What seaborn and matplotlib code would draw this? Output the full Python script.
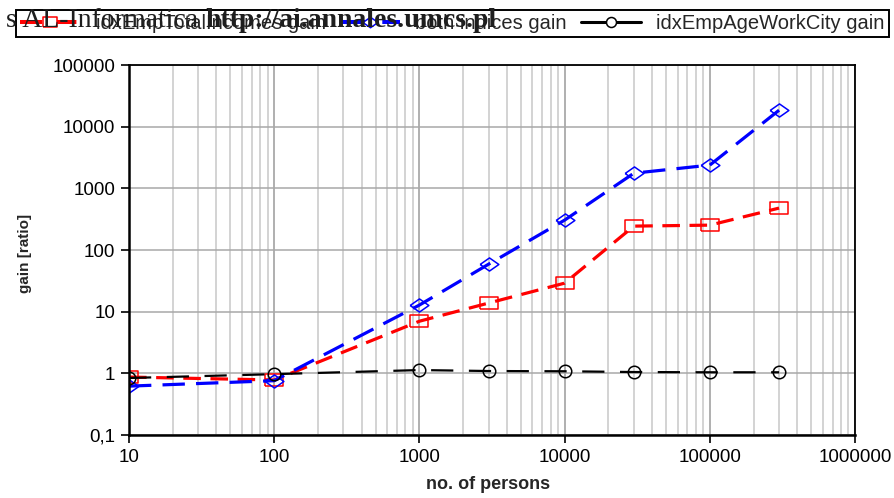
import matplotlib
matplotlib.use("Agg")
import matplotlib.pyplot as plt
import matplotlib.ticker as mticker
from matplotlib.lines import Line2D
import numpy as np
import pandas as pd
import seaborn as sns

## Data
persons = [10, 100, 1000, 3000, 10000, 30000, 100000, 300000]
gain_total_incomes = [0.87, 0.78, 7.0, 13.8, 29, 244, 253, 478]
gain_both = [0.62, 0.76, 12.8, 59, 305, 1760, 2380, 18500]
gain_age_work_city = [0.84, 0.97, 1.13, 1.09, 1.08, 1.05, 1.04, 1.04]

labels = ["idxEmpTotalIncomes gain", "both indices gain", "idxEmpAgeWorkCity gain"]
x_ticks = [10, 100, 1000, 10000, 100000, 1000000]
x_tick_labels = ["10", "100", "1000", "10000", "100000", "1000000"]
y_ticks = [0.1, 1, 10, 100, 1000, 10000, 100000]
y_tick_labels = ["0,1", "1", "10", "100", "1000", "10000", "100000"]

df = pd.DataFrame({
    "no. of persons": persons * 3,
    "gain": gain_total_incomes + gain_both + gain_age_work_city,
    "series": [labels[0]] * len(persons) + [labels[1]] * len(persons) + [labels[2]] * len(persons),
})

## Style
sns.set_theme(style="white")
plt.rcParams["font.family"] = ["Liberation Sans", "DejaVu Sans"]
plt.rcParams["axes.edgecolor"] = "black"

# flattened markers (the reference is stretched horizontally)
square = [(-1, -0.7), (1, -0.7), (1, 0.7), (-1, 0.7), (-1, -0.7)]
diamond = [(-1, 0), (0, 0.7), (1, 0), (0, -0.7), (-1, 0)]

styles = {
    labels[0]: dict(color="#ff0000", marker=square, markersize=12.5, lw=2.3, ls=(0, (5.5, 3))),
    labels[1]: dict(color="#0000ff", marker=diamond, markersize=13.5, lw=2.3, ls=(0, (7, 3.5))),
    labels[2]: dict(color="black", marker="o", markersize=9, lw=1.6, ls=(0, (10, 7))),
}

fig = plt.figure(figsize=(8.95, 4.98), dpi=100)
ax = fig.add_axes([129 / 895, 63 / 498, 726 / 895, 370 / 498])

for name in labels:
    st = styles[name]
    sns.lineplot(
        data=df[df["series"] == name],
        x="no. of persons",
        y="gain",
        ax=ax,
        color=st["color"],
        linewidth=st["lw"],
        linestyle=st["ls"],
        marker=st["marker"],
        markersize=st["markersize"],
        markerfacecolor="none",
        markeredgecolor=st["color"],
        markeredgewidth=1.1,
        errorbar=None,
        legend=False,
    )

ax.set_xscale("log")
ax.set_yscale("log")
ax.set_xlim(10, 1000000)
ax.set_ylim(0.1, 100000)

ax.xaxis.set_major_locator(mticker.FixedLocator(x_ticks))
ax.xaxis.set_major_formatter(mticker.FixedFormatter(x_tick_labels))
ax.xaxis.set_minor_locator(mticker.LogLocator(base=10, subs=np.arange(2, 10)))
ax.xaxis.set_minor_formatter(mticker.NullFormatter())
ax.yaxis.set_major_locator(mticker.FixedLocator(y_ticks))
ax.yaxis.set_major_formatter(mticker.FixedFormatter(y_tick_labels))
ax.yaxis.set_minor_locator(mticker.NullLocator())

ax.grid(True, which="major", axis="x", color="#9a9a9a", lw=1.1)
ax.grid(True, which="minor", axis="x", color="#c8c8c8", lw=1.1)
ax.grid(True, which="major", axis="y", color="#a8a8a8", lw=1.1)
ax.set_axisbelow(True)

ax.tick_params(axis="both", which="major", direction="out", length=6, width=1.2,
               color="black", labelsize=13.5, labelcolor="black", pad=4,
               bottom=True, left=True)
ax.tick_params(axis="x", which="minor", length=0)
for sp in ax.spines.values():
    sp.set_color("black")
    sp.set_linewidth(1.3)
ax.spines["left"].set_linewidth(1.8)
ax.spines["bottom"].set_linewidth(1.8)

ax.set_xlabel("no. of persons", fontsize=13, fontweight="bold")
ax.set_ylabel("gain [ratio]", fontsize=11, fontweight="bold")
ax.xaxis.set_label_coords(0.494, -0.112)
ax.yaxis.set_label_coords(-0.134, 0.49)

## Legend
handles = []
for name in labels:
    st = styles[name]
    ls = st["ls"] if name != labels[2] else "-"
    handles.append(Line2D([], [], color=st["color"], lw=st["lw"] + 0.6, linestyle=ls,
                          marker=st["marker"], markersize=st["markersize"] * 0.8,
                          markerfacecolor="white", markeredgecolor=st["color"],
                          markeredgewidth=1.1))
leg = fig.legend(handles, labels, ncol=3, loc="upper left",
                 bbox_to_anchor=(16 / 895, 1 - 10 / 498),
                 fontsize=14.5, frameon=True, fancybox=False, framealpha=1,
                 edgecolor="black", borderpad=0.2, handlelength=3.0,
                 handletextpad=0.75, columnspacing=0.7, borderaxespad=0)
leg.get_frame().set_linewidth(1.4)

## Watermark across the top
fig.text(198 / 895, 1 - 27 / 498, "s AL-Informatica", ha="right", va="baseline",
         fontsize=20, family=["Liberation Serif", "DejaVu Serif"], color="#1e1e1e", zorder=10)
fig.text(205 / 895, 1 - 27 / 498, "http://ai.annales.umcs.pl", ha="left", va="baseline",
         fontsize=20, fontweight="bold", family=["Liberation Serif", "DejaVu Serif"],
         color="#1e1e1e", zorder=10)

fig.savefig("out.png", dpi=100)
